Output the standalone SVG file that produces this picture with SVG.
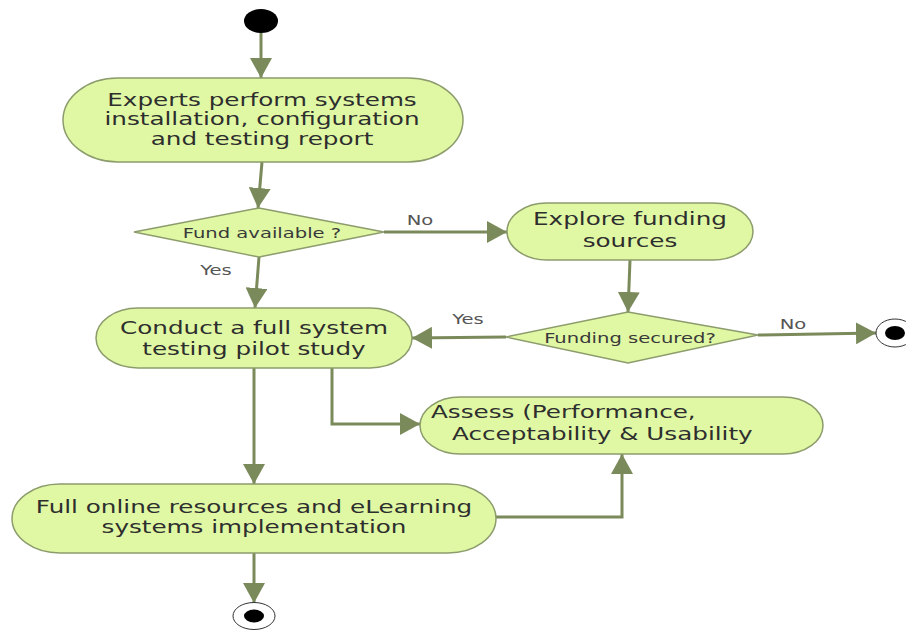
<svg xmlns="http://www.w3.org/2000/svg" width="906" height="631" viewBox="0 0 906 631">
  <style>
    .act { fill: #e0f8a4; stroke: #8c9c6c; stroke-width: 1.5; }
    .dec { fill: #e0f8a4; stroke: #8c9c6c; stroke-width: 1.5; }
    .flow { fill: none; stroke: #7b8a5b; stroke-width: 3; marker-end: url(#arrow); }
    .txt { font-family: "DejaVu Sans", Verdana, sans-serif; font-size: 17px; fill: #2e2e2e; }
    .small { font-family: "DejaVu Sans", Verdana, sans-serif; font-size: 13.5px; fill: #3a3a3a; }
    .lbl { font-family: "DejaVu Sans", Verdana, sans-serif; font-size: 13.5px; fill: #555555; }
    .ring { fill: #ffffff; stroke: #333333; stroke-width: 1; }
  </style>
  <defs>
    <marker id="arrow" markerUnits="userSpaceOnUse" markerWidth="22" markerHeight="22" refX="20" refY="11" orient="auto">
      <path d="M0,0 L20,11 L0,22 Z" fill="#7b8a5b"/>
    </marker>
  </defs>
  <rect width="906" height="631" fill="#ffffff"/>

  <g id="connectors">
    <path class="flow" d="M261,33 L261,78"/>
    <path class="flow" d="M262,162 L258,208"/>
    <path class="flow" d="M384,232 L507,232"/>
    <path class="flow" d="M259,257 L255,308"/>
    <path class="flow" d="M630,260 L628,312"/>
    <path class="flow" d="M506,337 L412,338"/>
    <path class="flow" d="M758,335 L876,333"/>
    <path class="flow" d="M332,368 V424 H420"/>
    <path class="flow" d="M254,368 L254,484"/>
    <path class="flow" d="M496,517 H622 V454"/>
    <path class="flow" d="M254,553 L254,603"/>
    <text class="lbl" transform="translate(420,225) scale(1.45,1)" text-anchor="middle">No</text>
    <text class="lbl" transform="translate(216,275) scale(1.45,1)" text-anchor="middle">Yes</text>
    <text class="lbl" transform="translate(468,324) scale(1.45,1)" text-anchor="middle">Yes</text>
    <text class="lbl" transform="translate(793,329) scale(1.45,1)" text-anchor="middle">No</text>
  </g>

  <g id="start">
    <ellipse cx="261" cy="21" rx="17" ry="12" fill="#000000"/>
  </g>

  <g id="experts">
    <rect class="act" x="63" y="78" width="400" height="84" rx="55" ry="42"/>
    <text class="txt" transform="translate(262,106) scale(1.45,1)" text-anchor="middle">Experts perform systems</text>
    <text class="txt" transform="translate(262,125) scale(1.45,1)" text-anchor="middle">installation, configuration</text>
    <text class="txt" transform="translate(262,145) scale(1.45,1)" text-anchor="middle">and testing report</text>
  </g>

  <g id="fund-available">
    <polygon class="dec" points="134,232 259,208 384,232 259,257"/>
    <text class="small" transform="translate(262,238) scale(1.45,1)" text-anchor="middle">Fund available ?</text>
  </g>

  <g id="explore-funding">
    <rect class="act" x="507" y="203" width="246" height="57" rx="40" ry="28.5"/>
    <text class="txt" transform="translate(630,225) scale(1.45,1)" text-anchor="middle">Explore funding</text>
    <text class="txt" transform="translate(630,247) scale(1.45,1)" text-anchor="middle">sources</text>
  </g>

  <g id="pilot-study">
    <rect class="act" x="96" y="308" width="316" height="60" rx="42" ry="30"/>
    <text class="txt" transform="translate(254,334) scale(1.45,1)" text-anchor="middle">Conduct a full system</text>
    <text class="txt" transform="translate(254,355) scale(1.45,1)" text-anchor="middle">testing pilot study</text>
  </g>

  <g id="funding-secured">
    <polygon class="dec" points="506,337 628,312 758,335 628,363"/>
    <text class="small" transform="translate(630,343) scale(1.45,1)" text-anchor="middle">Funding secured?</text>
  </g>

  <g id="end-right">
    <ellipse class="ring" cx="895" cy="333" rx="19" ry="14"/>
    <ellipse cx="895" cy="333" rx="10" ry="7" fill="#000000"/>
  </g>

  <g id="assess">
    <rect class="act" x="420" y="397" width="403" height="57" rx="40" ry="28.5"/>
    <text class="txt" transform="translate(431,418) scale(1.45,1)">Assess (Performance,</text>
    <text class="txt" transform="translate(452,440) scale(1.45,1)">Acceptability &amp; Usability</text>
  </g>

  <g id="implementation">
    <rect class="act" x="12" y="484" width="484" height="69" rx="48" ry="34.5"/>
    <text class="txt" transform="translate(254,513) scale(1.45,1)" text-anchor="middle">Full online resources and eLearning</text>
    <text class="txt" transform="translate(254,533) scale(1.45,1)" text-anchor="middle">systems implementation</text>
  </g>

  <g id="end-bottom">
    <ellipse class="ring" cx="254" cy="616" rx="21" ry="13.5"/>
    <ellipse cx="254" cy="616" rx="10" ry="6.5" fill="#000000"/>
  </g>
</svg>
